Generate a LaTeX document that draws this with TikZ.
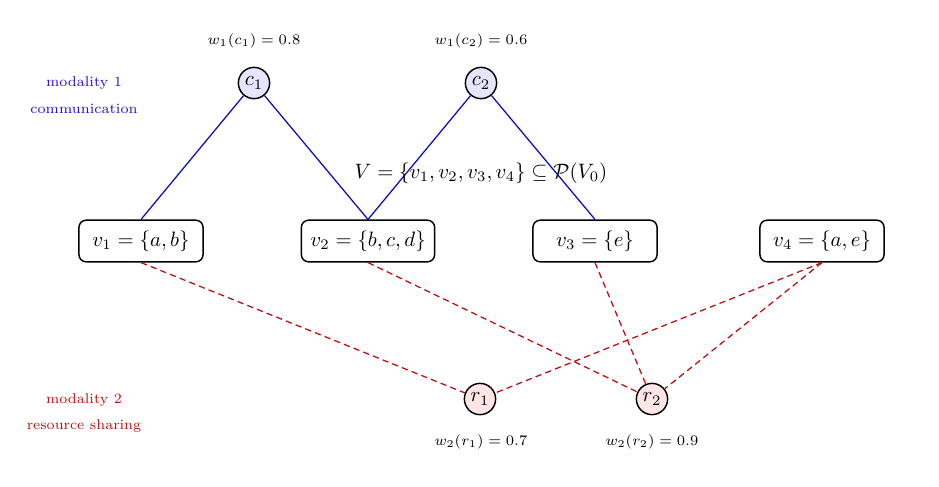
\documentclass[tikz,border=0pt]{standalone}
\usetikzlibrary{positioning}
\definecolor{modblue}{RGB}{45,10,200}
\definecolor{modred}{RGB}{190,15,15}
\definecolor{edgeblue}{RGB}{10,10,190}
\definecolor{edgered}{RGB}{190,10,10}
\tikzset{
  setbox/.style={draw, rounded corners=3.5pt, line width=0.7pt, minimum width=59.6pt, minimum height=18.8pt, inner xsep=4.3pt, inner ysep=5pt, font=\normalsize},
  commnode/.style={circle, draw, line width=0.7pt, fill=blue!10, minimum size=15pt, inner sep=0pt},
  resnode/.style={circle, draw, line width=0.7pt, fill=red!10, minimum size=15pt, inner sep=0pt},
  commedge/.style={draw=edgeblue, line width=0.6pt},
  resedge/.style={draw=edgered, line width=0.6pt, dash pattern=on 3pt off 2pt},
  weightlbl/.style={font=\scriptsize},
  modlbl/.style={font=\fontsize{6.8}{8}\selectfont}
}
\begin{document}
\begin{tikzpicture}[x=0.48pt,y=-0.48pt]
\useasboundingbox (0,0) rectangle (939,486);
% hyperedge nodes
\node[setbox] (v1) at (141,241) {$v_1 = \{a,b\}$};
\node[setbox] (v2) at (368,241) {$v_2 = \{b,c,d\}$};
\node[setbox] (v3) at (595,241) {$v_3 = \{e\}$};
\node[setbox] (v4) at (822,241) {$v_4 = \{a,e\}$};
% communication nodes
\node[commnode] (c1) at (254,83) {$c_1$};
\node[commnode] (c2) at (481,83) {$c_2$};
% resource nodes
\node[resnode] (r1) at (480,399) {$r_1$};
\node[resnode] (r2) at (652,399) {$r_2$};
% edges
\draw[commedge] (c1) -- (v1.north);
\draw[commedge] (c1) -- (v2.north);
\draw[commedge] (c2) -- (v2.north);
\draw[commedge] (c2) -- (v3.north);
\draw[resedge] (v1.south) -- (r1);
\draw[resedge] (v2.south) -- (r2);
\draw[resedge] (v3.south) -- (r2);
\draw[resedge] (v4.south) -- (r1);
\draw[resedge] (v4.south) -- (r2);
% set label
\node (setlbl) at (481,173) {$V = \{v_1, v_2, v_3, v_4\} \subseteq \mathcal{P}(V_0)$};
% weights
\node[weightlbl] (wc1) at (254,41) {$w_1(c_1) = 0.8$};
\node[weightlbl] (wc2) at (481,41) {$w_1(c_2) = 0.6$};
\node[weightlbl] (wr1) at (481,442) {$w_2(r_1) = 0.7$};
\node[weightlbl] (wr2) at (652,442) {$w_2(r_2) = 0.9$};
% modality labels
\node[modlbl, text=modblue] (m1a) at (84,83) {modality 1};
\node[modlbl, text=modblue] (m1b) at (84,109) {communication};
\node[modlbl, text=modred] (m2a) at (84,400) {modality 2};
\node[modlbl, text=modred] (m2b) at (84,426) {resource sharing};
\end{tikzpicture}
\end{document}
